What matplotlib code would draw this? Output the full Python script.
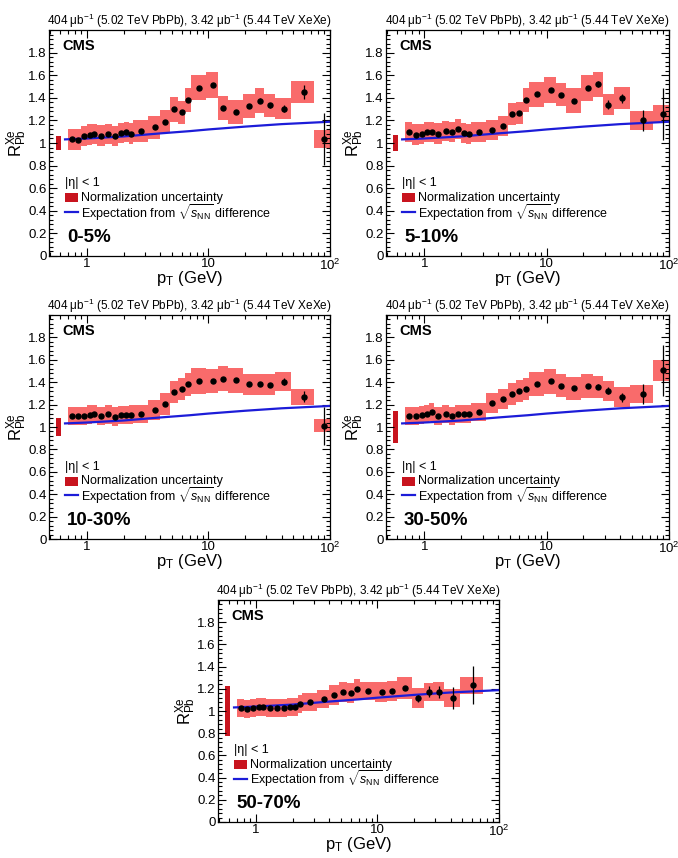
import numpy as np
import matplotlib
matplotlib.use("Agg")
import matplotlib.pyplot as plt
from matplotlib.ticker import FixedLocator, NullFormatter, LogLocator, MultipleLocator

plt.rcParams['font.family'] = ['Liberation Sans', 'DejaVu Sans']
plt.rcParams['mathtext.fontset'] = 'custom'
plt.rcParams['mathtext.rm'] = 'Liberation Sans'
plt.rcParams['mathtext.it'] = 'Liberation Sans:italic'
plt.rcParams['mathtext.bf'] = 'Liberation Sans:bold'

# pT bin edges (GeV)
edges = [0.7, 0.8, 0.9, 1.0, 1.1, 1.2, 1.4, 1.6, 1.8, 2.0, 2.2, 2.4, 3.2, 4.0, 4.8,
         5.6, 6.4, 7.2, 9.6, 12.0, 14.4, 19.2, 24.0, 28.8, 35.2, 48.0, 73.6, 103.6]

labels = ['0-5%', '5-10%', '10-30%', '30-50%', '50-70%']

r_0_5 = [1.033, 1.03, 1.06, 1.075, 1.08, 1.065, 1.078, 1.063, 1.09, 1.096, 1.084, 1.108, 1.138,
         1.19, 1.297, 1.27, 1.38, 1.49, 1.515, 1.31, 1.275, 1.327, 1.375, 1.333, 1.305, 1.45, 1.036]
stat_0_5 = [0]*22 + [0.02, 0.025, 0.035, 0.065, 0.23]
syst_0_5 = [0.093] + [0.09]*10 + [0.095, 0.1, 0.105, 0.107, 0.1, 0.11, 0.11, 0.115, 0.105, 0.105,
                                   0.11, 0.11, 0.1, 0.095, 0.097, 0.078]

r_5_10 = [1.095, 1.074, 1.08, 1.095, 1.10, 1.083, 1.104, 1.098, 1.124, 1.086, 1.077, 1.098, 1.113,
          1.148, 1.255, 1.267, 1.38, 1.43, 1.468, 1.427, 1.376, 1.49, 1.52, 1.34, 1.397, 1.2, 1.258]
stat_5_10 = [0]*21 + [0.015, 0.025, 0.04, 0.04, 0.09, 0.23]
syst_5_10 = [0.09]*12 + [0.09, 0.087, 0.1, 0.1, 0.11, 0.11, 0.112, 0.1, 0.11, 0.116, 0.11,
                         0.093, 0.1, 0.082, 0.078]

r_10_30 = [1.099, 1.099, 1.099, 1.11, 1.116, 1.099, 1.113, 1.093, 1.107, 1.107, 1.11, 1.116, 1.149,
           1.206, 1.31, 1.34, 1.38, 1.41, 1.41, 1.433, 1.418, 1.382, 1.38, 1.376, 1.406, 1.269, 1.012]
stat_10_30 = [0]*22 + [0.015, 0.02, 0.03, 0.05, 0.17]
syst_10_30 = [0.082]*12 + [0.09, 0.097, 0.1, 0.1, 0.105, 0.115, 0.11, 0.11, 0.11, 0.095, 0.093,
                           0.093, 0.087, 0.072, 0.055]

r_30_50 = [1.10, 1.097, 1.106, 1.12, 1.13, 1.097, 1.112, 1.097, 1.112, 1.112, 1.112, 1.133, 1.211,
           1.248, 1.293, 1.323, 1.341, 1.387, 1.408, 1.369, 1.344, 1.366, 1.36, 1.323, 1.266, 1.293, 1.505]
stat_30_50 = [0]*21 + [0.015, 0.02, 0.03, 0.04, 0.09, 0.23]
syst_30_50 = [0.08]*12 + [0.09, 0.09, 0.1, 0.1, 0.1, 0.108, 0.11, 0.105, 0.1, 0.103, 0.097,
                          0.088, 0.088, 0.082, 0.09]

r_50_70 = [1.03, 1.018, 1.03, 1.036, 1.036, 1.027, 1.03, 1.03, 1.039, 1.036, 1.065, 1.083, 1.11,
           1.148, 1.169, 1.16, 1.196, 1.181, 1.172, 1.178, 1.21, 1.113, 1.172, 1.172, 1.116, 1.231]
stat_50_70 = [0]*21 + [0.03, 0.05, 0.055, 0.1, 0.17]
syst_50_70 = [0.08]*12 + [0.08, 0.09, 0.09, 0.09, 0.09, 0.08, 0.09, 0.09, 0.1, 0.09, 0.08,
                          0.085, 0.078, 0.075]

norm_unc = [0.065, 0.068, 0.084, 0.145, 0.225]

# expectation from sqrt(sNN) difference
pt_exp = [0.66, 1, 2, 4, 7, 10, 20, 40, 100]
r_exp = [1.032, 1.04, 1.058, 1.085, 1.105, 1.12, 1.145, 1.167, 1.188]

values = [r_0_5, r_5_10, r_10_30, r_30_50, r_50_70]
stats = [stat_0_5, stat_5_10, stat_10_30, stat_30_50, stat_50_70]
systs = [syst_0_5, syst_5_10, syst_10_30, syst_30_50, syst_50_70]

W, H = 678, 858
fig = plt.figure(figsize=(W/100, H/100), dpi=100)
# axes boxes in pixels: left, top, right, bottom
boxes = [(49, 30, 330, 256), (386, 30, 669, 256),
         (49, 315, 330, 539), (386, 315, 669, 539),
         (218, 600, 499, 822)]

box_col = '#f96b6b'
norm_col = '#c8141e'
line_col = '#1c1cd8'

for i, (l, t, r, b) in enumerate(boxes):
    ax = fig.add_axes([l/W, (H-b)/H, (r-l)/W, (b-t)/H])
    ax.set_xscale('log')
    ax.set_xlim(0.487, 100)
    ax.set_ylim(0, 2.0)

    vals = np.array(values[i])
    n = len(vals)
    e = np.array(edges[:n+1])
    centers = 0.5*(e[:-1] + e[1:])
    sy = np.array(systs[i])
    st = np.array(stats[i])

    ax.bar(e[:-1], 2*sy, bottom=vals-sy, width=np.diff(e), align='edge',
           color=box_col, linewidth=0, zorder=1)
    ax.bar([0.555], [2*norm_unc[i]], bottom=1-norm_unc[i], width=[0.055], align='edge',
           color=norm_col, linewidth=0, zorder=1)
    ax.plot(pt_exp, r_exp, color=line_col, lw=1.6, zorder=2)
    ax.errorbar(centers, vals, yerr=st, fmt='o', color='black', ms=3.6,
                elinewidth=0.9, capsize=0, zorder=3)

    # ticks, ROOT style
    ax.xaxis.set_major_locator(FixedLocator([1, 10, 100]))
    ax.set_xticklabels(['1', '10', '10$^{2}$'])
    ax.xaxis.set_minor_locator(LogLocator(base=10, subs=np.arange(2, 10)))
    ax.xaxis.set_minor_formatter(NullFormatter())
    ax.yaxis.set_minor_locator(MultipleLocator(0.04))
    ax.set_yticks([0, 0.2, 0.4, 0.6, 0.8, 1.0, 1.2, 1.4, 1.6, 1.8])
    ax.set_yticklabels(['0', '0.2', '0.4', '0.6', '0.8', '1', '1.2', '1.4', '1.6', '1.8'])
    ax.tick_params(which='both', direction='in', top=True, right=True, width=0.8)
    ax.tick_params(which='major', length=6, labelsize=9.5)
    ax.tick_params(which='minor', length=3)
    ax.tick_params(axis='x', which='major', pad=1.5)
    ax.tick_params(axis='y', which='major', pad=1.5)
    for s in ax.spines.values():
        s.set_linewidth(0.9)

    ax.text(0.5, 1.04, '404 μb$^{-1}$ (5.02 TeV PbPb), 3.42 μb$^{-1}$ (5.44 TeV XeXe)',
            transform=ax.transAxes, ha='center', va='center', fontsize=8.5)
    ax.text(0.046, 0.93, 'CMS', transform=ax.transAxes, ha='left', va='center',
            fontsize=10.5, fontweight='bold')
    ax.text(0.064, 0.084, labels[i], transform=ax.transAxes, ha='left', va='center',
            fontsize=13.5, fontweight='bold')

    # legend
    ax.text(0.058, 0.323, '|η| < 1', transform=ax.transAxes, ha='left', va='center', fontsize=9)
    ax.add_patch(plt.Rectangle((0.057, 0.237), 0.045, 0.042, transform=ax.transAxes,
                               color=norm_col, lw=0))
    ax.text(0.114, 0.257, 'Normalization uncertainty', transform=ax.transAxes,
            ha='left', va='center', fontsize=9)
    ax.plot([0.057, 0.102], [0.195, 0.195], transform=ax.transAxes, color=line_col, lw=1.6)
    ax.text(0.114, 0.193, r'Expectation from $\sqrt{s_{\rm NN}}$ difference',
            transform=ax.transAxes, ha='left', va='center', fontsize=9)

    ax.text(0.5, -0.1, r'p$_{\rm T}$ (GeV)', transform=ax.transAxes, ha='center',
            va='center', fontsize=12)
    ax.text(-0.115, 0.5, r'R$_{\rm Pb}^{\rm Xe}$', transform=ax.transAxes, ha='center',
            va='center', fontsize=12, rotation=90)

fig.savefig('out.png', dpi=100)
